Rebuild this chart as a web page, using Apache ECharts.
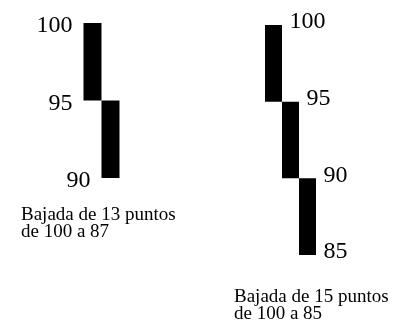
<!DOCTYPE html>
<html>
<head>
<meta charset="utf-8">
<script src="https://cdn.jsdelivr.net/npm/echarts@6/dist/echarts.min.js"></script>
<style>
  html, body { margin: 0; padding: 0; background: #fff; }
  #main { width: 393px; height: 323px; }
</style>
</head>
<body>
<div id="main"></div>
<script>
// columnas del gráfico izquierdo (caída 100 -> 90)
const leftCols = ['c1', 'c2'];
const leftHigh = [100, 95];
const leftLow = [95, 90];
const leftTicks = [[0, 100], [0, 95], [1, 90]];
const leftCaption = 'Bajada de 13 puntos\nde 100 a 87';

// columnas del gráfico derecho (caída 100 -> 85)
const rightCols = ['c1', 'c2', 'c3'];
const rightHigh = [100, 95, 90];
const rightLow = [95, 90, 85];
const rightTicks = [[0, 100], [1, 95], [2, 90], [2, 85]];
const rightCaption = 'Bajada de 15 puntos\nde 100 a 85';

const serif = "'Liberation Serif', 'Times New Roman', serif";

function boxSeries(idx, low, high, stack) {
  return [
    {
      type: 'bar', xAxisIndex: idx, yAxisIndex: idx, stack: stack,
      barWidth: '100%', silent: true,
      itemStyle: { color: 'transparent' },
      data: low
    },
    {
      type: 'bar', xAxisIndex: idx, yAxisIndex: idx, stack: stack,
      barWidth: '100%', silent: true,
      itemStyle: { color: '#000' },
      data: high.map((h, i) => h - low[i])
    }
  ];
}

function tickSeries(idx, ticks, pos, dist, dy) {
  return {
    type: 'scatter', xAxisIndex: idx, yAxisIndex: idx,
    symbolSize: 0, silent: true,
    itemStyle: { opacity: 1 },
    label: {
      show: true, position: pos, distance: dist, offset: [0, dy],
      formatter: p => String(p.value[1]),
      color: '#000', opacity: 1, fontFamily: serif, fontSize: 24
    },
    data: ticks
  };
}

const captionStyle = { fontFamily: serif, fontSize: 19, lineHeight: 17, fontWeight: 'normal', color: '#000' };

const option = {
  backgroundColor: '#fff',
  animation: false,
  title: [
    { text: leftCaption, left: 21, top: 207, padding: 0, textStyle: captionStyle },
    { text: rightCaption, left: 234, top: 289, padding: 0, textStyle: captionStyle }
  ],
  grid: [
    { left: 83.5, width: 36, top: 23, height: 186 },
    { left: 265, width: 51, top: 25, height: 260.7 }
  ],
  xAxis: [
    { type: 'category', gridIndex: 0, data: leftCols, show: false },
    { type: 'category', gridIndex: 1, data: rightCols, show: false }
  ],
  yAxis: [
    { type: 'value', gridIndex: 0, min: 88, max: 100, show: false },
    { type: 'value', gridIndex: 1, min: 83, max: 100, show: false }
  ],
  series: [
    ...boxSeries(0, leftLow, leftHigh, 'left'),
    ...boxSeries(1, rightLow, rightHigh, 'right'),
    tickSeries(0, leftTicks, 'left', 20, 3),
    tickSeries(1, rightTicks, 'right', 16, -3)
  ]
};

const chart = echarts.init(document.getElementById('main'));
chart.setOption(option);
</script>
</body>
</html>
